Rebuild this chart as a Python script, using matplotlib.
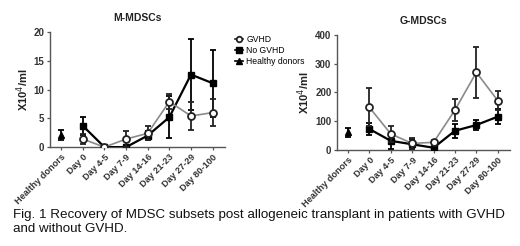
import numpy as np
import matplotlib
matplotlib.use("Agg")
import matplotlib.pyplot as plt
from matplotlib.lines import Line2D

plt.rcParams['font.family'] = ['Liberation Sans', 'DejaVu Sans']

# categories
days = ["Healthy donors", "Day 0", "Day 4-5", "Day 7-9", "Day 14-16",
        "Day 21-23", "Day 27-29", "Day 80-100"]

# M-MDSCs (x10^4/ml)
m_healthy = 2.1
m_healthy_err = 0.9
m_gvhd = [1.4, 0.0, 1.4, 2.4, 7.9, 5.4, 6.0]
m_gvhd_err = [0.9, 0.0, 1.4, 1.2, 1.3, 2.5, 2.3]
m_nogvhd = [3.7, 0.0, 0.0, 2.0, 5.2, 12.6, 11.1]
m_nogvhd_err = [1.6, 0.0, 0.0, 0.8, 3.7, 6.1, 5.8]

# G-MDSCs (x10^4/ml)
g_healthy = 62
g_healthy_err = 15
g_gvhd = [148, 56, 23, 27, 139, 270, 172]
g_gvhd_err = [66, 27, 20, 8, 37, 88, 34]
g_nogvhd = [73, 32, 20, 8, 67, 87, 116]
g_nogvhd_err = [22, 30, 18, 8, 25, 17, 26]

fig = plt.figure(figsize=(5.2, 2.46), dpi=100)
axL = fig.add_axes([0.096, 0.402, 0.337, 0.468])
axR = fig.add_axes([0.648, 0.390, 0.333, 0.468])


def draw(ax, healthy, healthy_err, gv, gv_err, ng, ng_err, ymax, yticks, title):
    x = np.arange(1, len(days))
    ax.errorbar(x, ng, yerr=ng_err, color='black', lw=1.6, marker='s', ms=4.5,
                capsize=2.5, elinewidth=1.3, capthick=1.3, zorder=3)
    ax.errorbar(x, gv, yerr=gv_err, color='#8a8a8a', lw=1.2, marker='o', ms=5,
                mfc='white', mec='#222222', mew=1.3, ecolor='#222222',
                capsize=2.5, elinewidth=1.3, capthick=1.3, zorder=4)
    ax.errorbar([0], [healthy], yerr=[healthy_err], color='black', marker='^', ms=4.5,
                capsize=2.5, elinewidth=1.3, capthick=1.3, zorder=3)
    ax.set_xlim(-0.52, 7.58)
    ax.set_ylim(0, ymax)
    ax.set_yticks(yticks)
    ax.set_xticks(range(len(days)))
    ax.set_xticklabels(days, rotation=45, ha='right', rotation_mode='anchor',
                       fontsize=6.6, fontweight='bold', color='#333333')
    for lab in ax.get_yticklabels():
        lab.set_fontsize(7)
        lab.set_fontweight('bold')
        lab.set_color('#333333')
    ax.tick_params(axis='both', length=2.5, width=0.9, color='#555555', pad=1.5)
    for s in ['top', 'right']:
        ax.spines[s].set_visible(False)
    for s in ['left', 'bottom']:
        ax.spines[s].set_linewidth(1.0)
        ax.spines[s].set_color('#555555')
    ax.set_ylabel("X10$^4$/ml", fontsize=8, fontweight='bold', labelpad=2, color='#222222')
    ax.set_title(title, fontsize=7.5, fontweight='bold', pad=8, color='#222222')


draw(axL, m_healthy, m_healthy_err, m_gvhd, m_gvhd_err, m_nogvhd, m_nogvhd_err,
     20, [0, 5, 10, 15, 20], "M-MDSCs")
draw(axR, g_healthy, g_healthy_err, g_gvhd, g_gvhd_err, g_nogvhd, g_nogvhd_err,
     400, [0, 100, 200, 300, 400], "G-MDSCs")

handles = [
    Line2D([], [], color='#222222', marker='o', mfc='white', mec='#222222', mew=1.3, ms=4, lw=1.2),
    Line2D([], [], color='black', marker='s', ms=4, lw=1.2),
    Line2D([], [], color='black', marker='^', ms=4, lw=1.2),
]
fig.legend(handles, ["GVHD", "No GVHD", "Healthy donors"], loc='upper left',
           bbox_to_anchor=(0.445, 0.872), frameon=False, fontsize=6.2,
           handlelength=0.9, handletextpad=0.45, labelspacing=0.22, borderaxespad=0)

fig.text(0.025, 0.098, "Fig. 1 Recovery of MDSC subsets post allogeneic transplant in patients with GVHD\nand without GVHD.",
         fontsize=9.6, va='center', ha='left', linespacing=1.2, color='#111111')

fig.savefig("out.png", dpi=100)
